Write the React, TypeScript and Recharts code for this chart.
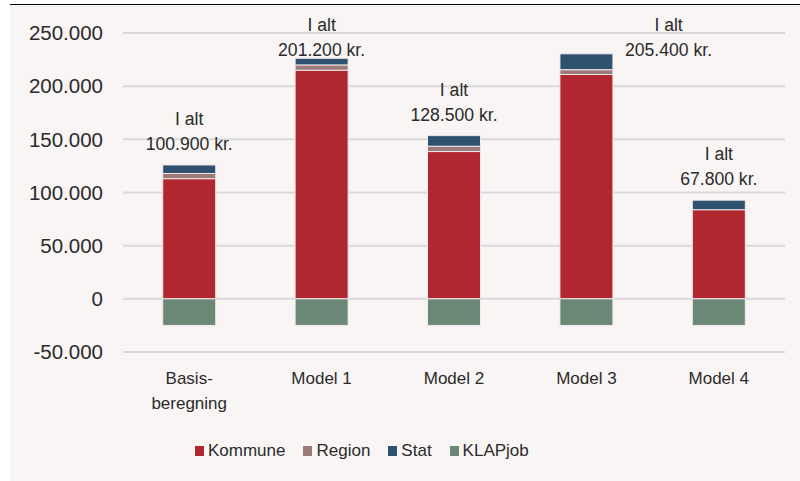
import React from "react";
import {
  BarChart,
  Bar,
  XAxis,
  YAxis,
  CartesianGrid,
  Legend,
  LabelList,
} from "recharts";

const categories = ["Basis-\nberegning", "Model 1", "Model 2", "Model 3", "Model 4"];
const kommune = [113000, 215000, 138500, 211000, 83800];
const region = [4900, 5000, 5000, 4500, 0];
const stat = [8000, 6200, 10000, 14900, 9000];
const klapjob = [-25000, -25000, -25000, -25000, -25000];
const yTicks = [-50000, 0, 50000, 100000, 150000, 200000, 250000];

const seriesInfo = [
  { key: "Kommune", color: "#b0272f" },
  { key: "Region", color: "#9b7a79" },
  { key: "Stat", color: "#2e5170" },
  { key: "KLAPjob", color: "#6b8776" },
];

const data = categories.map((name, i) => ({
  name,
  Kommune: kommune[i],
  Region: region[i],
  Stat: stat[i],
  KLAPjob: klapjob[i],
}));

const FONT = "'Liberation Sans', Arial, sans-serif";
const TEXT = "#2b2b2b";

function fmt(n: number) {
  return String(n).replace(/\B(?=(\d{3})+(?!\d))/g, ".");
}

function total(i: number) {
  return kommune[i] + region[i] + stat[i] + klapjob[i];
}

function XTick(props: any) {
  const { x, y, payload } = props;
  const lines = String(payload.value).split("\n");
  return (
    <text x={x} y={y} textAnchor="middle" fill={TEXT} fontSize={17} fontFamily={FONT}>
      {lines.map((l, k) => (
        <tspan key={k} x={x} dy={k === 0 ? 32 : 25}>
          {l}
        </tspan>
      ))}
    </text>
  );
}

function TotalLabel(props: any) {
  const { x, y, width, index } = props;
  // the label sits above the bar, but never above the top of the plot;
  // when there is no room it moves to the side of the bar
  const line2 = Math.max(y - 21, 45);
  const cx = y < 50 ? x + width / 2 + width * 1.55 : x + width / 2;
  return (
    <text textAnchor="middle" fill={TEXT} fontSize={17.6} fontFamily={FONT}>
      <tspan x={cx} y={line2 - 25 + 6}>I alt</tspan>
      <tspan x={cx} y={line2 + 6}>{fmt(total(index))} kr.</tspan>
    </text>
  );
}

function LegendContent() {
  return (
    <div style={{ display: "flex", fontFamily: FONT, fontSize: 17, color: TEXT, height: 40, alignItems: "center" }}>
      {seriesInfo.map((s) => (
        <div key={s.key} style={{ display: "flex", alignItems: "center", marginRight: 18 }}>
          <span style={{ width: 9, height: 10, background: s.color, display: "inline-block", marginRight: 4 }} />
          <span>{s.key}</span>
        </div>
      ))}
    </div>
  );
}

export default function App() {
  return (
    <div style={{ position: "absolute", left: 0, top: 0, width: 800, height: 481, background: "#ffffff", overflow: "hidden" }}>
      <div style={{ position: "absolute", left: 10, top: 3.5, width: 790, height: 1.5, background: "#000" }} />
      <div style={{ position: "absolute", left: 10, top: 5, width: 790, height: 476, background: "#f8f5f4" }}>
        <BarChart
          width={790}
          height={476}
          data={data}
          stackOffset="sign"
          barCategoryGap="30%"
          margin={{ top: 28, right: 15, left: 0, bottom: 10 }}
        >
          <CartesianGrid vertical={false} stroke="#d9d9d9" strokeWidth={2} />
          <XAxis
            dataKey="name"
            axisLine={false}
            tickLine={false}
            tickSize={0}
            tickMargin={0}
            height={79}
            interval={0}
            tick={<XTick />}
          />
          <YAxis
            width={113}
            domain={[-50000, 250000]}
            ticks={yTicks}
            axisLine={false}
            tickLine={false}
            tickSize={0}
            tickMargin={20}
            tickFormatter={fmt}
            tick={{ fill: TEXT, fontSize: 20.5, fontFamily: FONT }}
          />
          <Legend
            verticalAlign="bottom"
            height={40}
            content={<LegendContent />}
            wrapperStyle={{ left: 185, width: 400, bottom: 10 }}
          />
          {seriesInfo.map((s) => (
            <Bar
              key={s.key}
              dataKey={s.key}
              stackId="a"
              fill={s.color}
              stroke="#f3e9e9"
              strokeWidth={1}
              isAnimationActive={false}
            >
              {s.key === "Stat" ? <LabelList dataKey="Stat" content={<TotalLabel />} /> : null}
            </Bar>
          ))}
        </BarChart>
      </div>
    </div>
  );
}
